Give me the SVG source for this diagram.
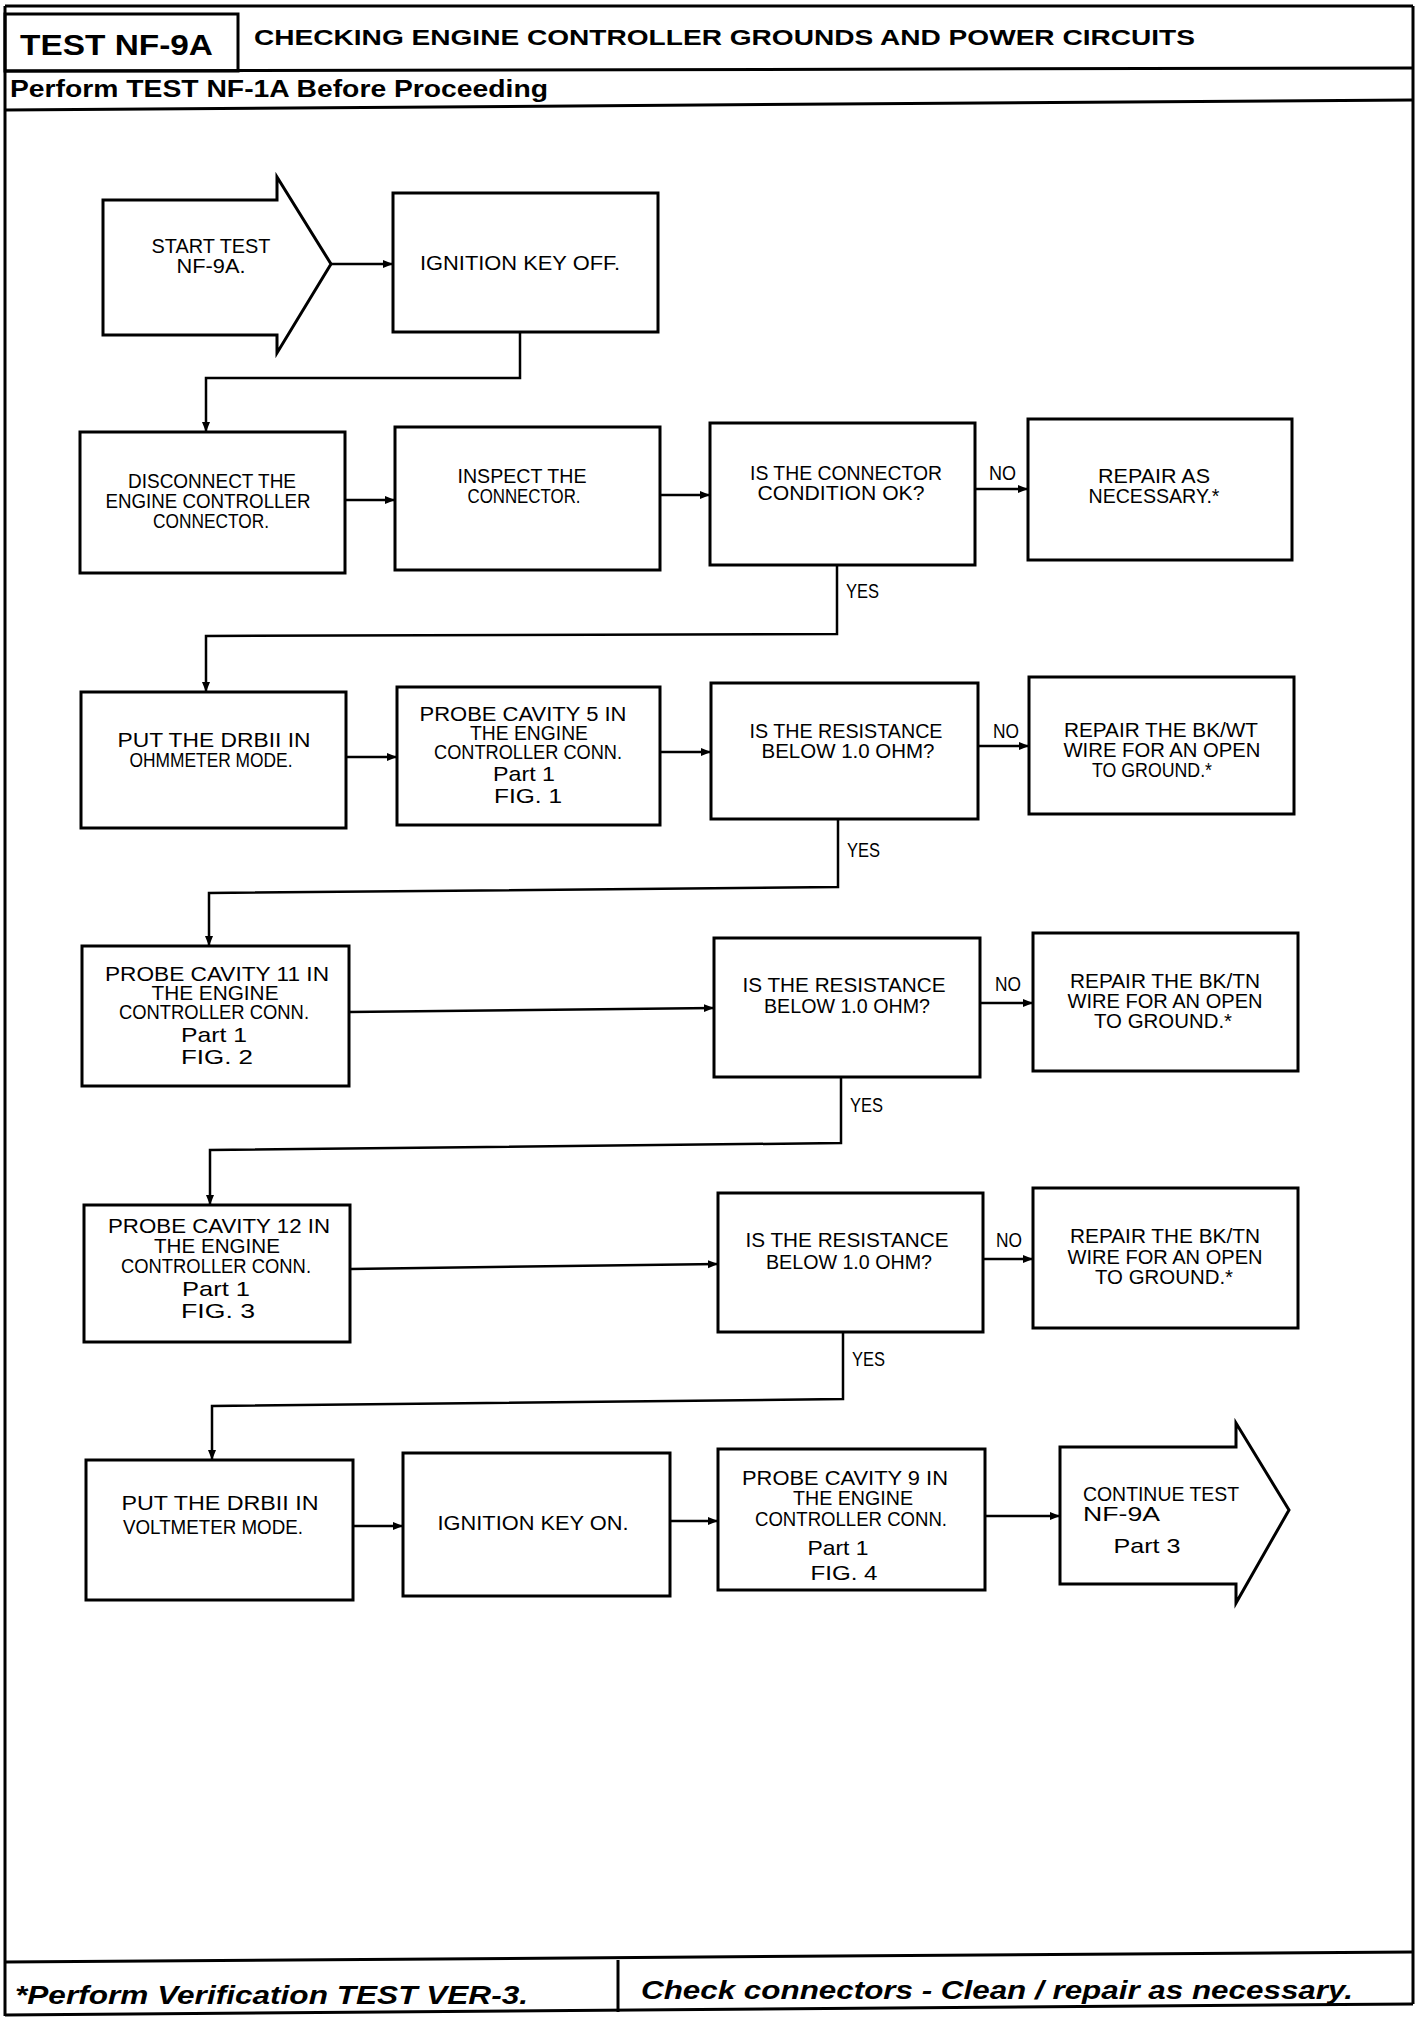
<svg xmlns="http://www.w3.org/2000/svg" width="1424" height="2018" viewBox="0 0 1424 2018">
<style>
.frame{fill:none;stroke:#000;stroke-width:3}
.box{fill:#fff;stroke:#000;stroke-width:3}
.c{fill:none;stroke:#000;stroke-width:2.5}
.t{font-family:'Liberation Sans Narrow','Liberation Sans',sans-serif;font-size:20px;text-anchor:middle;fill:#000}
.p{font-family:'Liberation Sans',Arial,sans-serif;font-size:21px;text-anchor:middle;fill:#000}
.l{font-family:'Liberation Sans Narrow','Liberation Sans',sans-serif;font-size:20px;fill:#000}
.h{font-family:'Liberation Sans',Arial,sans-serif;font-weight:bold;fill:#000}
.f{font-family:'Liberation Sans',Arial,sans-serif;font-weight:bold;font-style:italic;font-size:25px;fill:#000}
</style>
<defs>
<marker id="ah" markerUnits="userSpaceOnUse" markerWidth="12" markerHeight="10" refX="10" refY="5" orient="auto">
<path d="M0,1 L10,5 L0,9 Z" fill="#000"/>
</marker>
</defs>
<rect width="1424" height="2018" fill="#fff"/>

<g id="frame">
<line class="frame" x1="5" y1="6" x2="1413" y2="6"/>
<line class="frame" x1="5" y1="6" x2="5" y2="2016"/>
<line class="frame" x1="1413" y1="6" x2="1413" y2="2004"/>
<rect class="frame" x="5" y="14" width="233" height="57"/>
<line class="frame" x1="5" y1="71" x2="1413" y2="68"/>
<line class="frame" x1="5" y1="110" x2="1413" y2="100"/>
<line class="frame" x1="5" y1="1962" x2="1413" y2="1952"/>
<line class="frame" x1="5" y1="2015" x2="1413" y2="2004"/>
<line class="frame" x1="618" y1="1960" x2="618" y2="2012"/>
<text class="h" x="20" y="55" font-size="29" textLength="193" lengthAdjust="spacingAndGlyphs">TEST NF-9A</text>
<text class="h" x="254" y="45" font-size="22" textLength="941" lengthAdjust="spacingAndGlyphs">CHECKING ENGINE CONTROLLER GROUNDS AND POWER CIRCUITS</text>
<text class="h" x="10" y="97" font-size="24" textLength="538" lengthAdjust="spacingAndGlyphs">Perform TEST NF-1A Before Proceeding</text>
<text class="f" x="15" y="2004" textLength="513" lengthAdjust="spacingAndGlyphs">*Perform Verification TEST VER-3.</text>
<text class="f" x="641" y="1999" textLength="712" lengthAdjust="spacingAndGlyphs">Check connectors - Clean / repair as necessary.</text>
</g>

<g id="connectors">
<line class="c" x1="331" y1="264" x2="393" y2="264" marker-end="url(#ah)"/>
<polyline class="c" points="520,332 520,378 206,378 206,432" marker-end="url(#ah)"/>
<line class="c" x1="345" y1="500" x2="395" y2="500" marker-end="url(#ah)"/>
<line class="c" x1="660" y1="495" x2="710" y2="495" marker-end="url(#ah)"/>
<line class="c" x1="975" y1="489" x2="1028" y2="489" marker-end="url(#ah)"/>
<polyline class="c" points="837,565 837,634 206,636 206,692" marker-end="url(#ah)"/>
<line class="c" x1="346" y1="757" x2="397" y2="757" marker-end="url(#ah)"/>
<line class="c" x1="660" y1="752" x2="711" y2="752" marker-end="url(#ah)"/>
<line class="c" x1="978" y1="746" x2="1029" y2="746" marker-end="url(#ah)"/>
<polyline class="c" points="838,819 838,887 209,893 209,946" marker-end="url(#ah)"/>
<line class="c" x1="349" y1="1012" x2="714" y2="1008" marker-end="url(#ah)"/>
<line class="c" x1="980" y1="1003" x2="1033" y2="1003" marker-end="url(#ah)"/>
<polyline class="c" points="841,1077 841,1143 210,1150 210,1205" marker-end="url(#ah)"/>
<line class="c" x1="350" y1="1269" x2="718" y2="1264" marker-end="url(#ah)"/>
<line class="c" x1="983" y1="1259" x2="1033" y2="1259" marker-end="url(#ah)"/>
<polyline class="c" points="843,1332 843,1399 212,1406 212,1460" marker-end="url(#ah)"/>
<line class="c" x1="353" y1="1526" x2="403" y2="1526" marker-end="url(#ah)"/>
<line class="c" x1="670" y1="1521" x2="718" y2="1521" marker-end="url(#ah)"/>
<line class="c" x1="985" y1="1516" x2="1060" y2="1516" marker-end="url(#ah)"/>
<text class="l" x="989" y="480" textLength="27" lengthAdjust="spacingAndGlyphs">NO</text>
<text class="l" x="846" y="598" textLength="33" lengthAdjust="spacingAndGlyphs">YES</text>
<text class="l" x="993" y="738" textLength="26" lengthAdjust="spacingAndGlyphs">NO</text>
<text class="l" x="847" y="857" textLength="33" lengthAdjust="spacingAndGlyphs">YES</text>
<text class="l" x="995" y="991" textLength="26" lengthAdjust="spacingAndGlyphs">NO</text>
<text class="l" x="850" y="1112" textLength="33" lengthAdjust="spacingAndGlyphs">YES</text>
<text class="l" x="996" y="1247" textLength="26" lengthAdjust="spacingAndGlyphs">NO</text>
<text class="l" x="852" y="1366" textLength="33" lengthAdjust="spacingAndGlyphs">YES</text>
</g>

<g id="start">
<polygon class="box" points="103,200 277,200 277,177 331,264 277,353 277,335 103,335"/>
<text class="t" x="211" y="253" textLength="119" lengthAdjust="spacingAndGlyphs">START TEST</text>
<text class="t" x="211" y="273" textLength="69" lengthAdjust="spacingAndGlyphs">NF-9A.</text>
</g>

<g id="ign-off">
<rect class="box" x="393" y="193" width="265" height="139"/>
<text class="t" x="520" y="270" textLength="200" lengthAdjust="spacingAndGlyphs">IGNITION KEY OFF.</text>
</g>

<g id="disconnect">
<rect class="box" x="80" y="432" width="265" height="141"/>
<text class="t" x="212" y="488" textLength="168" lengthAdjust="spacingAndGlyphs">DISCONNECT THE</text>
<text class="t" x="208" y="508" textLength="205" lengthAdjust="spacingAndGlyphs">ENGINE CONTROLLER</text>
<text class="t" x="211" y="528" textLength="116" lengthAdjust="spacingAndGlyphs">CONNECTOR.</text>
</g>

<g id="inspect">
<rect class="box" x="395" y="427" width="265" height="143"/>
<text class="t" x="522" y="483" textLength="129" lengthAdjust="spacingAndGlyphs">INSPECT THE</text>
<text class="t" x="524" y="503" textLength="113" lengthAdjust="spacingAndGlyphs">CONNECTOR.</text>
</g>

<g id="q-connector">
<rect class="box" x="710" y="423" width="265" height="142"/>
<text class="t" x="846" y="480" textLength="192" lengthAdjust="spacingAndGlyphs">IS THE CONNECTOR</text>
<text class="t" x="841" y="500" textLength="167" lengthAdjust="spacingAndGlyphs">CONDITION OK?</text>
</g>

<g id="repair-1">
<rect class="box" x="1028" y="419" width="264" height="141"/>
<text class="t" x="1154" y="483" textLength="112" lengthAdjust="spacingAndGlyphs">REPAIR AS</text>
<text class="t" x="1154" y="503" textLength="131" lengthAdjust="spacingAndGlyphs">NECESSARY.*</text>
</g>

<g id="ohmmeter">
<rect class="box" x="81" y="692" width="265" height="136"/>
<text class="t" x="214" y="747" textLength="193" lengthAdjust="spacingAndGlyphs">PUT THE DRBII IN</text>
<text class="t" x="211" y="767" textLength="163" lengthAdjust="spacingAndGlyphs">OHMMETER MODE.</text>
</g>

<g id="probe-5">
<rect class="box" x="397" y="687" width="263" height="138"/>
<text class="t" x="523" y="721" textLength="207" lengthAdjust="spacingAndGlyphs">PROBE CAVITY 5 IN</text>
<text class="t" x="529" y="740" textLength="118" lengthAdjust="spacingAndGlyphs">THE ENGINE</text>
<text class="t" x="528" y="759" textLength="188" lengthAdjust="spacingAndGlyphs">CONTROLLER CONN.</text>
<text class="p" x="524" y="781" textLength="62" lengthAdjust="spacingAndGlyphs">Part 1</text>
<text class="t" x="528" y="803" textLength="68" lengthAdjust="spacingAndGlyphs">FIG. 1</text>
</g>

<g id="q-res-1">
<rect class="box" x="711" y="683" width="267" height="136"/>
<text class="t" x="846" y="738" textLength="193" lengthAdjust="spacingAndGlyphs">IS THE RESISTANCE</text>
<text class="t" x="848" y="758" textLength="173" lengthAdjust="spacingAndGlyphs">BELOW 1.0 OHM?</text>
</g>

<g id="repair-bkwt">
<rect class="box" x="1029" y="677" width="265" height="137"/>
<text class="t" x="1161" y="737" textLength="194" lengthAdjust="spacingAndGlyphs">REPAIR THE BK/WT</text>
<text class="t" x="1162" y="757" textLength="197" lengthAdjust="spacingAndGlyphs">WIRE FOR AN OPEN</text>
<text class="t" x="1152" y="777" textLength="120" lengthAdjust="spacingAndGlyphs">TO GROUND.*</text>
</g>

<g id="probe-11">
<rect class="box" x="82" y="946" width="267" height="140"/>
<text class="t" x="217" y="981" textLength="224" lengthAdjust="spacingAndGlyphs">PROBE CAVITY 11 IN</text>
<text class="t" x="215" y="1000" textLength="127" lengthAdjust="spacingAndGlyphs">THE ENGINE</text>
<text class="t" x="214" y="1019" textLength="190" lengthAdjust="spacingAndGlyphs">CONTROLLER CONN.</text>
<text class="p" x="214" y="1042" textLength="66" lengthAdjust="spacingAndGlyphs">Part 1</text>
<text class="t" x="217" y="1064" textLength="72" lengthAdjust="spacingAndGlyphs">FIG. 2</text>
</g>

<g id="q-res-2">
<rect class="box" x="714" y="938" width="266" height="139"/>
<text class="t" x="844" y="992" textLength="203" lengthAdjust="spacingAndGlyphs">IS THE RESISTANCE</text>
<text class="t" x="847" y="1013" textLength="166" lengthAdjust="spacingAndGlyphs">BELOW 1.0 OHM?</text>
</g>

<g id="repair-bktn-1">
<rect class="box" x="1033" y="933" width="265" height="138"/>
<text class="t" x="1165" y="988" textLength="190" lengthAdjust="spacingAndGlyphs">REPAIR THE BK/TN</text>
<text class="t" x="1165" y="1008" textLength="195" lengthAdjust="spacingAndGlyphs">WIRE FOR AN OPEN</text>
<text class="t" x="1163" y="1028" textLength="138" lengthAdjust="spacingAndGlyphs">TO GROUND.*</text>
</g>

<g id="probe-12">
<rect class="box" x="84" y="1205" width="266" height="137"/>
<text class="t" x="219" y="1233" textLength="222" lengthAdjust="spacingAndGlyphs">PROBE CAVITY 12 IN</text>
<text class="t" x="217" y="1253" textLength="126" lengthAdjust="spacingAndGlyphs">THE ENGINE</text>
<text class="t" x="216" y="1273" textLength="190" lengthAdjust="spacingAndGlyphs">CONTROLLER CONN.</text>
<text class="p" x="216" y="1296" textLength="68" lengthAdjust="spacingAndGlyphs">Part 1</text>
<text class="t" x="218" y="1318" textLength="74" lengthAdjust="spacingAndGlyphs">FIG. 3</text>
</g>

<g id="q-res-3">
<rect class="box" x="718" y="1193" width="265" height="139"/>
<text class="t" x="847" y="1247" textLength="203" lengthAdjust="spacingAndGlyphs">IS THE RESISTANCE</text>
<text class="t" x="849" y="1269" textLength="166" lengthAdjust="spacingAndGlyphs">BELOW 1.0 OHM?</text>
</g>

<g id="repair-bktn-2">
<rect class="box" x="1033" y="1188" width="265" height="140"/>
<text class="t" x="1165" y="1243" textLength="190" lengthAdjust="spacingAndGlyphs">REPAIR THE BK/TN</text>
<text class="t" x="1165" y="1264" textLength="195" lengthAdjust="spacingAndGlyphs">WIRE FOR AN OPEN</text>
<text class="t" x="1164" y="1284" textLength="138" lengthAdjust="spacingAndGlyphs">TO GROUND.*</text>
</g>

<g id="voltmeter">
<rect class="box" x="86" y="1460" width="267" height="140"/>
<text class="t" x="220" y="1510" textLength="197" lengthAdjust="spacingAndGlyphs">PUT THE DRBII IN</text>
<text class="t" x="213" y="1534" textLength="180" lengthAdjust="spacingAndGlyphs">VOLTMETER MODE.</text>
</g>

<g id="ign-on">
<rect class="box" x="403" y="1453" width="267" height="143"/>
<text class="t" x="533" y="1530" textLength="191" lengthAdjust="spacingAndGlyphs">IGNITION KEY ON.</text>
</g>

<g id="probe-9">
<rect class="box" x="718" y="1449" width="267" height="141"/>
<text class="t" x="845" y="1485" textLength="206" lengthAdjust="spacingAndGlyphs">PROBE CAVITY 9 IN</text>
<text class="t" x="853" y="1505" textLength="120" lengthAdjust="spacingAndGlyphs">THE ENGINE</text>
<text class="t" x="851" y="1526" textLength="192" lengthAdjust="spacingAndGlyphs">CONTROLLER CONN.</text>
<text class="p" x="838" y="1555" textLength="61" lengthAdjust="spacingAndGlyphs">Part 1</text>
<text class="t" x="844" y="1580" textLength="67" lengthAdjust="spacingAndGlyphs">FIG. 4</text>
</g>

<g id="continue">
<polygon class="box" points="1060,1447 1236,1447 1236,1423 1289,1510 1236,1603 1236,1584 1060,1584"/>
<text class="l" x="1083" y="1501" textLength="156" lengthAdjust="spacingAndGlyphs">CONTINUE TEST</text>
<text class="l" x="1083" y="1521" textLength="77" lengthAdjust="spacingAndGlyphs">NF-9A</text>
<text class="p" x="1147" y="1553" textLength="67" lengthAdjust="spacingAndGlyphs">Part 3</text>
</g>
</svg>
